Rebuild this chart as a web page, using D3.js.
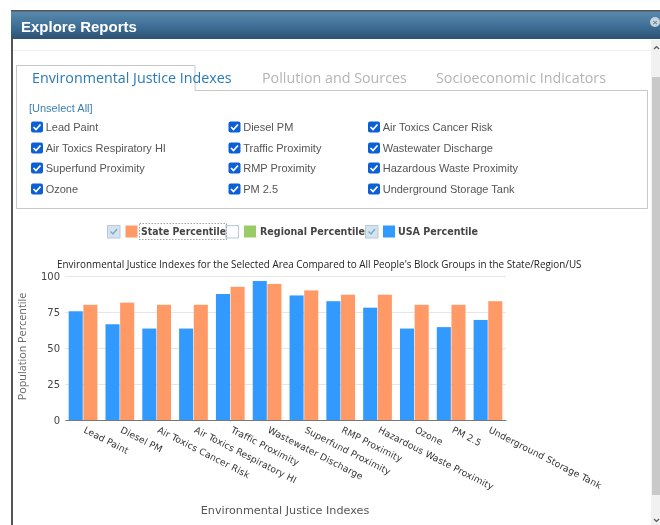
<!DOCTYPE html>
<html><head><meta charset="utf-8">
<script src="https://cdn.jsdelivr.net/npm/d3@7"></script>
<style>html,body{margin:0;padding:0;background:#fff;overflow:hidden}svg{display:block}</style>
</head><body><svg id="c" width="660" height="525"></svg>
<script>
const categories=["Lead Paint","Diesel PM","Air Toxics Cancer Risk","Air Toxics Respiratory HI","Traffic Proximity","Wastewater Discharge","Superfund Proximity","RMP Proximity","Hazardous Waste Proximity","Ozone","PM 2.5","Underground Storage Tank"];
const usaValues=[75.5,66.5,63.5,63.5,87.5,96.5,86.5,82.5,78,63.5,64.5,69.5];
const stateValues=[80,81.5,80,80,92.5,94.5,90,87,87,80,80,82.5];
const yTicks=[0,25,50,75,100];
const tabLabels=["Environmental Justice Indexes","Pollution and Sources","Socioeconomic Indicators"];
const checkColumns=[["Lead Paint","Air Toxics Respiratory HI","Superfund Proximity","Ozone"],["Diesel PM","Traffic Proximity","RMP Proximity","PM 2.5"],["Air Toxics Cancer Risk","Wastewater Discharge","Hazardous Waste Proximity","Underground Storage Tank"]];
const legendItems=[["State Percentile","#ff9966",true],["Regional Percentile","#99cc66",false],["USA Percentile","#3399ff",true]];

const svg=d3.select("#c");
const defs=svg.append("defs");
const g=defs.append("linearGradient").attr("id","hdr").attr("x1",0).attr("x2",0).attr("y1",0).attr("y2",1);
g.append("stop").attr("offset","0").attr("stop-color","#5b8db0");
g.append("stop").attr("offset","0.55").attr("stop-color","#3f6f96");
g.append("stop").attr("offset","1").attr("stop-color","#2c5273");
const soft=defs.append("filter").attr("id","soft");
soft.append("feGaussianBlur").attr("stdDeviation",0.35);
const root=svg.append("g").attr("filter","url(#soft)");
const sans="'Liberation Sans',Arial,sans-serif", open="'Open Sans',sans-serif", dv="'DejaVu Sans',Verdana,sans-serif";

// modal frame
root.append("rect").attr("x",11).attr("y",11).attr("width",649).attr("height",514).attr("fill","#fff");
root.append("rect").attr("x",11).attr("y",10).attr("width",2).attr("height",515).attr("fill","#555");
root.append("rect").attr("x",11).attr("y",10).attr("width",649).attr("height",29).attr("fill","url(#hdr)");
root.append("rect").attr("x",11).attr("y",10).attr("width",649).attr("height",1.5).attr("fill","#555");
root.append("text").attr("x",21).attr("y",32).attr("font-family",sans).attr("font-weight","bold").attr("font-size",15).attr("fill","#fff").text("Explore Reports");
root.append("circle").attr("cx",655).attr("cy",22).attr("r",5).attr("fill","#c9d3da");
root.append("text").attr("x",655).attr("y",25).attr("text-anchor","middle").attr("font-family",sans).attr("font-weight","bold").attr("font-size",8).attr("fill","#5b7f99").text("×");
root.append("line").attr("x1",13).attr("x2",651).attr("y1",50.5).attr("y2",50.5).attr("stroke","#eee");

// scrollbar
root.append("rect").attr("x",651).attr("y",40).attr("width",9).attr("height",485).attr("fill","#f1f1f1");
root.append("rect").attr("x",652).attr("y",77).attr("width",8).attr("height",418).attr("fill","#c9c9c9");
root.append("path").attr("d","M654 49 L656.5 46.5 L659 49").attr("fill","none").attr("stroke","#555").attr("stroke-width",1.2);
root.append("path").attr("d","M654 519 L656.5 521.5 L659 519").attr("fill","none").attr("stroke","#555").attr("stroke-width",1.2);

// tab panel
root.append("path").attr("d","M16.5 65.5 H195 V90.5 H647.5 V208.5 H16.5 Z").attr("fill","#fff").attr("stroke","#c8c8c8");
const tabX=[32,262,436];
root.selectAll(".tab").data(tabLabels).join("text").attr("class","tab")
  .attr("x",(d,i)=>tabX[i]).attr("y",83).attr("font-family",open).attr("font-size",14.3)
  .attr("fill",(d,i)=>i===0?"#2a7ab8":"#b4b4b4").text(d=>d);
root.append("text").attr("x",29).attr("y",112).attr("font-family",sans).attr("font-size",11).attr("fill","#3b7fb5").text("[Unselect All]");

// checkboxes
const colX=[30,227.5,367], rowY=[127,148,168,189];
checkColumns.forEach((col,c)=>col.forEach((label,r)=>{
  const x=colX[c], y=rowY[r];
  root.append("rect").attr("x",x+1).attr("y",y-5.5).attr("width",12).attr("height",11).attr("rx",2).attr("fill","#0f5fd6");
  root.append("path").attr("d",`M${x+3.5} ${y} L${x+6} ${y+2.5} L${x+10.5} ${y-2.5}`).attr("fill","none").attr("stroke","#fff").attr("stroke-width",1.7);
  root.append("text").attr("x",x+15.7).attr("y",y+4).attr("font-family",sans).attr("font-size",11).attr("fill","#555").text(label);
}));

// legend
const legX=[107.5,226,365.5], legSwatchX=[125.5,244,383], legTextX=[141,260,398], legTextW=[85,105,80];
legendItems.forEach((it,i)=>{
  const x=legX[i], y=231.5;
  root.append("rect").attr("x",x).attr("y",y-6).attr("width",12.5).attr("height",12.5).attr("fill",it[2]?"#d5e3ef":"#fafcfe").attr("stroke","#b9c9d8");
  if(it[2]) root.append("path").attr("d",`M${x+3} ${y} L${x+5.5} ${y+2.5} L${x+9.5} ${y-2.5}`).attr("fill","none").attr("stroke","#7faacb").attr("stroke-width",1.5);
  root.append("rect").attr("x",legSwatchX[i]).attr("y",y-6).attr("width",12).attr("height",12).attr("fill",it[1]);
  root.append("text").attr("x",legTextX[i]).attr("y",y+3.5).attr("font-family",dv).attr("font-weight","bold").attr("font-size",10.4).attr("fill","#444")
    .attr("textLength",legTextW[i]).attr("lengthAdjust","spacingAndGlyphs").text(it[0]);
});
root.append("rect").attr("x",139.5).attr("y",223.5).attr("width",87).attr("height",16).attr("fill","none").attr("stroke","#777").attr("stroke-width",0.7).attr("stroke-dasharray","1.5,1.5");

// chart
const plotLeft=65,plotRight=506,plotTop=276,plotBottom=420;
const x0=d3.scaleBand().domain(categories).range([plotLeft,plotRight]).paddingInner(0.22).paddingOuter(0.1);
const x1=d3.scaleBand().domain(["usa","state"]).range([0,x0.bandwidth()]).paddingInner(0.04);
const yScale=d3.scaleLinear().domain([0,100]).range([plotBottom,plotTop]);
const chart=root.append("g");
chart.append("text").attr("x",57).attr("y",268).attr("font-family",open).attr("font-size",9.9).attr("fill","#222").text("Environmental Justice Indexes for the Selected Area Compared to All People's Block Groups in the State/Region/US");
const yAxis=d3.axisLeft(yScale).tickValues(yTicks).tickSize(plotRight-plotLeft).tickPadding(5);
const ya=chart.append("g").attr("transform",`translate(${plotRight},0)`).call(yAxis);
ya.select(".domain").remove();
ya.selectAll(".tick line").attr("stroke","#e6e6e6").attr("stroke-width",1);
ya.selectAll(".tick text").attr("font-family",dv).attr("font-size",10).attr("fill","#444");

chart.selectAll(".usa").data(categories).join("rect").attr("class","usa")
  .attr("x",d=>x0(d)+x1("usa")).attr("width",x1.bandwidth())
  .attr("y",(d,i)=>yScale(usaValues[i])).attr("height",(d,i)=>yScale(0)-yScale(usaValues[i])).attr("fill","#3399ff");
chart.selectAll(".state").data(categories).join("rect").attr("class","state")
  .attr("x",d=>x0(d)+x1("state")).attr("width",x1.bandwidth())
  .attr("y",(d,i)=>yScale(stateValues[i])).attr("height",(d,i)=>yScale(0)-yScale(stateValues[i])).attr("fill","#ff9966");

const xa=chart.append("g").attr("transform",`translate(0,${plotBottom})`).call(d3.axisBottom(x0).tickSize(0));
xa.select(".domain").attr("stroke","#777").attr("stroke-width",1.2);
xa.selectAll(".tick text").attr("font-family",dv).attr("font-size",9.2).attr("fill","#333")
  .attr("text-anchor","start").attr("dy",0).attr("y",0).attr("letter-spacing",0.1)
  .attr("transform","translate(0,12) rotate(27)");

chart.append("text").attr("transform","translate(26,346.5) rotate(-90)").attr("text-anchor","middle").attr("font-family",open).attr("font-size",10.8).attr("fill","#666").text("Population Percentile");
chart.append("text").attr("x",285).attr("y",514).attr("text-anchor","middle").attr("font-family",dv).attr("font-size",11.2).attr("fill","#555").text("Environmental Justice Indexes");
</script></body></html>
